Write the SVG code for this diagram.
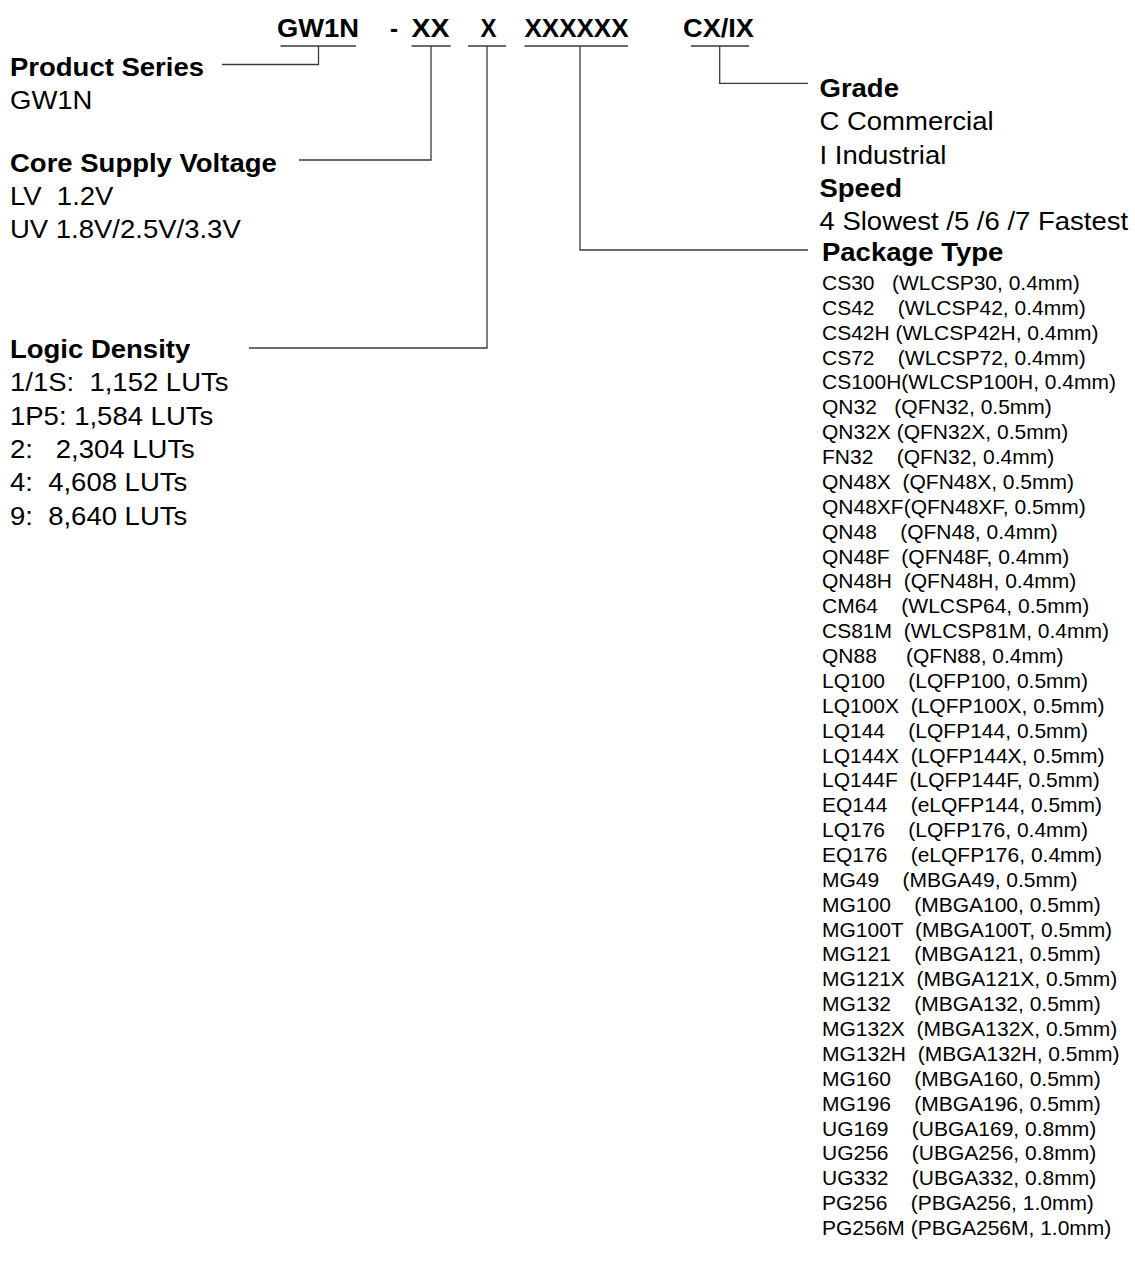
<svg xmlns="http://www.w3.org/2000/svg" width="1135" height="1264" viewBox="0 0 1135 1264">
<style>
text{font-family:"Liberation Sans",Arial,sans-serif;fill:#000;white-space:pre}
.b{font-weight:bold}
.m{font-size:25px}
.s{font-size:20px}
.code{font-size:25px;font-weight:bold}
.ln{stroke:#3a3a3a;stroke-width:1.3;fill:none}
</style>
<rect width="1135" height="1264" fill="#fff"/>
<g id="code">
<text class="code" x="277" y="37" textLength="82" lengthAdjust="spacingAndGlyphs">GW1N</text>
<text class="code" x="390" y="37" textLength="8" lengthAdjust="spacingAndGlyphs">-</text>
<text class="code" x="411.6" y="37" textLength="38" lengthAdjust="spacingAndGlyphs">XX</text>
<text class="code" x="480.5" y="37" textLength="16" lengthAdjust="spacingAndGlyphs">X</text>
<text class="code" x="524.5" y="37" textLength="104" lengthAdjust="spacingAndGlyphs">XXXXXX</text>
<text class="code" x="683" y="37" textLength="71" lengthAdjust="spacingAndGlyphs">CX/IX</text>
</g>
<g id="connectors" class="ln">
<path d="M280.4 46H356M318.5 46V64.5H222"/>
<path d="M411.6 46H450.7M431 46V160H299"/>
<path d="M468 46H506M487 46V348H249"/>
<path d="M524.5 46H628M580 46V250H808"/>
<path d="M691 46H749M719.7 46V83.3H808"/>
</g>
<g id="product-series" transform="translate(10,0) scale(1.1,1)">
<text class="m b" x="0" y="76">Product Series</text>
<text class="m" x="0" y="109">GW1N</text>
</g>
<g id="core-supply-voltage" transform="translate(10,0) scale(1.1,1)">
<text class="m b" x="0" y="172">Core Supply Voltage</text>
<text class="m" x="0" y="205">LV  1.2V</text>
<text class="m" x="0" y="238">UV 1.8V/2.5V/3.3V</text>
</g>
<g id="logic-density" transform="translate(10,0) scale(1.1,1)">
<text class="m b" x="0" y="358">Logic Density</text>
<text class="m" x="0" y="391.5">1/1S:  1,152 LUTs</text>
<text class="m" x="0" y="425">1P5: 1,584 LUTs</text>
<text class="m" x="0" y="458">2:   2,304 LUTs</text>
<text class="m" x="0" y="491.5">4:  4,608 LUTs</text>
<text class="m" x="0" y="525">9:  8,640 LUTs</text>
</g>
<g id="grade" transform="translate(819.5,0) scale(1.1,1)">
<text class="m b" x="0" y="97">Grade</text>
<text class="m" x="0" y="130">C Commercial</text>
<text class="m" x="0" y="164">I Industrial</text>
</g>
<g id="speed" transform="translate(819.5,0) scale(1.1,1)">
<text class="m b" x="0" y="197">Speed</text>
<text class="m" x="0" y="230">4 Slowest /5 /6 /7 Fastest</text>
</g>
<g id="package-type">
<g transform="translate(822,0) scale(1.1,1)">
<text class="m b" x="0" y="261">Package Type</text>
</g>
<g transform="translate(822,0) scale(1.05,1)">
<text class="s" x="0" y="290">CS30   (WLCSP30, 0.4mm)</text>
<text class="s" x="0" y="314.87">CS42    (WLCSP42, 0.4mm)</text>
<text class="s" x="0" y="339.74">CS42H (WLCSP42H, 0.4mm)</text>
<text class="s" x="0" y="364.61">CS72    (WLCSP72, 0.4mm)</text>
<text class="s" x="0" y="389.48">CS100H(WLCSP100H, 0.4mm)</text>
<text class="s" x="0" y="414.35">QN32   (QFN32, 0.5mm)</text>
<text class="s" x="0" y="439.22">QN32X (QFN32X, 0.5mm)</text>
<text class="s" x="0" y="464.09">FN32    (QFN32, 0.4mm)</text>
<text class="s" x="0" y="488.96">QN48X  (QFN48X, 0.5mm)</text>
<text class="s" x="0" y="513.83">QN48XF(QFN48XF, 0.5mm)</text>
<text class="s" x="0" y="538.7">QN48    (QFN48, 0.4mm)</text>
<text class="s" x="0" y="563.57">QN48F  (QFN48F, 0.4mm)</text>
<text class="s" x="0" y="588.44">QN48H  (QFN48H, 0.4mm)</text>
<text class="s" x="0" y="613.31">CM64    (WLCSP64, 0.5mm)</text>
<text class="s" x="0" y="638.18">CS81M  (WLCSP81M, 0.4mm)</text>
<text class="s" x="0" y="663.05">QN88     (QFN88, 0.4mm)</text>
<text class="s" x="0" y="687.92">LQ100    (LQFP100, 0.5mm)</text>
<text class="s" x="0" y="712.79">LQ100X  (LQFP100X, 0.5mm)</text>
<text class="s" x="0" y="737.66">LQ144    (LQFP144, 0.5mm)</text>
<text class="s" x="0" y="762.53">LQ144X  (LQFP144X, 0.5mm)</text>
<text class="s" x="0" y="787.4">LQ144F  (LQFP144F, 0.5mm)</text>
<text class="s" x="0" y="812.27">EQ144    (eLQFP144, 0.5mm)</text>
<text class="s" x="0" y="837.14">LQ176    (LQFP176, 0.4mm)</text>
<text class="s" x="0" y="862.01">EQ176    (eLQFP176, 0.4mm)</text>
<text class="s" x="0" y="886.88">MG49    (MBGA49, 0.5mm)</text>
<text class="s" x="0" y="911.75">MG100    (MBGA100, 0.5mm)</text>
<text class="s" x="0" y="936.62">MG100T  (MBGA100T, 0.5mm)</text>
<text class="s" x="0" y="961.49">MG121    (MBGA121, 0.5mm)</text>
<text class="s" x="0" y="986.36">MG121X  (MBGA121X, 0.5mm)</text>
<text class="s" x="0" y="1011.23">MG132    (MBGA132, 0.5mm)</text>
<text class="s" x="0" y="1036.1">MG132X  (MBGA132X, 0.5mm)</text>
<text class="s" x="0" y="1060.97">MG132H  (MBGA132H, 0.5mm)</text>
<text class="s" x="0" y="1085.84">MG160    (MBGA160, 0.5mm)</text>
<text class="s" x="0" y="1110.71">MG196    (MBGA196, 0.5mm)</text>
<text class="s" x="0" y="1135.58">UG169    (UBGA169, 0.8mm)</text>
<text class="s" x="0" y="1160.45">UG256    (UBGA256, 0.8mm)</text>
<text class="s" x="0" y="1185.32">UG332    (UBGA332, 0.8mm)</text>
<text class="s" x="0" y="1210.19">PG256    (PBGA256, 1.0mm)</text>
<text class="s" x="0" y="1235.06">PG256M (PBGA256M, 1.0mm)</text>
</g>
</g>
</svg>
